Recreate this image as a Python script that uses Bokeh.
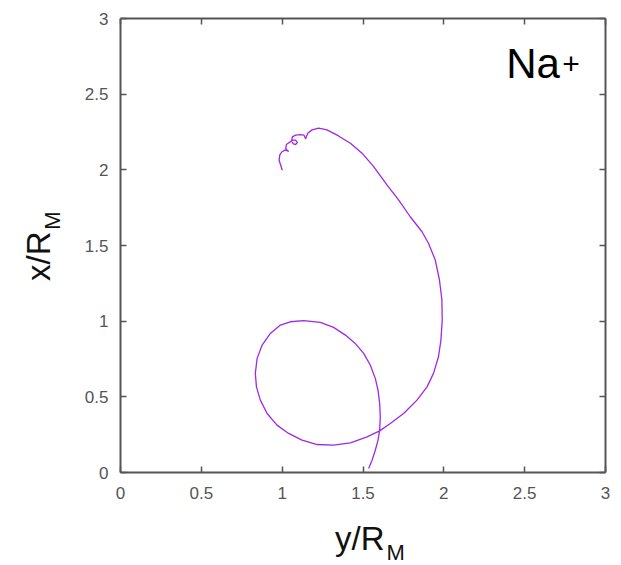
import math

from bokeh.embed import file_html
from bokeh.layouts import column, row
from bokeh.models import ColumnDataSource, FixedTicker, Label, LinearAxis, Range1d
from bokeh.plotting import figure
from bokeh.resources import INLINE

# Na+ ion trajectory in the equatorial plane (in Mercury radii), time-ordered
traj_y = [1.535, 1.556, 1.576, 1.593, 1.603, 1.607, 1.603, 1.593, 1.576, 1.545,
          1.504, 1.452, 1.391, 1.318, 1.236, 1.133, 1.051, 0.989, 0.927, 0.876,
          0.845, 0.834, 0.841, 0.865, 0.907, 0.968, 1.040, 1.123, 1.216, 1.318,
          1.422, 1.525, 1.603, 1.669, 1.751, 1.834, 1.896, 1.936, 1.967, 1.982,
          1.990, 1.988, 1.973, 1.947, 1.905, 1.865, 1.792, 1.720, 1.648, 1.566,
          1.494, 1.422, 1.349, 1.277, 1.226, 1.185, 1.158, 1.145, 1.135, 1.114,
          1.083, 1.063, 1.059, 1.067, 1.083, 1.094, 1.083, 1.067, 1.043, 1.026,
          1.022, 1.038, 1.018, 0.997, 0.985, 0.981, 0.991, 1.001]
traj_x = [0.026, 0.081, 0.147, 0.214, 0.280, 0.368, 0.456, 0.544, 0.622, 0.710,
          0.787, 0.853, 0.908, 0.959, 0.992, 1.003, 0.996, 0.974, 0.919, 0.842,
          0.754, 0.655, 0.566, 0.478, 0.390, 0.313, 0.258, 0.214, 0.185, 0.181,
          0.196, 0.235, 0.275, 0.324, 0.390, 0.478, 0.566, 0.655, 0.765, 0.875,
          1.007, 1.140, 1.272, 1.404, 1.515, 1.591, 1.690, 1.801, 1.900, 2.021,
          2.110, 2.176, 2.224, 2.264, 2.275, 2.264, 2.242, 2.206, 2.229, 2.233,
          2.229, 2.218, 2.196, 2.173, 2.167, 2.180, 2.196, 2.196, 2.180, 2.167,
          2.140, 2.123, 2.130, 2.118, 2.097, 2.063, 2.030, 1.997]

ticks = [0, 0.5, 1, 1.5, 2, 2.5, 3]
tick_text = {0: "0", 0.5: "0.5", 1: "1", 1.5: "1.5", 2: "2", 2.5: "2.5", 3: "3"}

AXIS_COLOR = "#555555"
LABEL_COLOR = "#555555"
TITLE_COLOR = "#111111"
LINE_COLOR = "#a028e6"
FONT = "Liberation Sans"


def blank_figure(w, h):
    f = figure(width=w, height=h, output_backend="svg", toolbar_location=None,
               x_range=Range1d(0, w), y_range=Range1d(0, h), min_border=0,
               x_axis_location=None, y_axis_location=None)
    f.grid.visible = False
    f.outline_line_color = None
    return f


# main plot panel
p = figure(width=551, height=520, output_backend="svg", toolbar_location=None,
           x_range=Range1d(0, 3), y_range=Range1d(0, 3),
           min_border_left=50, min_border_right=16,
           min_border_top=18, min_border_bottom=48,
           x_axis_location=None, y_axis_location=None)
p.grid.visible = False
p.outline_line_color = None

src = ColumnDataSource(dict(y=traj_y, x=traj_x))
p.line("y", "x", source=src, line_color=LINE_COLOR, line_width=1.3,
       line_join="round")


def make_axis(show_labels, standoff):
    ax = LinearAxis(ticker=FixedTicker(ticks=ticks),
                    major_label_overrides=tick_text)
    ax.axis_line_color = AXIS_COLOR
    ax.axis_line_width = 2
    ax.major_tick_line_color = AXIS_COLOR
    ax.major_tick_line_width = 1.5
    ax.major_tick_in = 6
    ax.major_tick_out = 0
    ax.minor_tick_line_color = None
    ax.major_label_text_font = FONT
    ax.major_label_text_color = LABEL_COLOR
    ax.major_label_standoff = standoff
    if show_labels:
        ax.major_label_text_font_size = "17px"
    else:
        ax.major_label_text_font_size = "0px"
        ax.major_label_text_alpha = 0
    return ax


p.add_layout(make_axis(True, 14), "below")
p.add_layout(make_axis(True, 12), "left")
p.add_layout(make_axis(False, 0), "above")
p.add_layout(make_axis(False, 0), "right")

# species tag
p.add_layout(Label(x=2.386, y=2.550, text="Na", text_align="left",
                   text_font=FONT, text_font_size="42px", text_color="black"))
p.add_layout(Label(x=2.732, y=2.630, text="+", text_align="left",
                   text_font=FONT, text_font_size="30px", text_color="black"))

# vertical axis title: x/R_M
left = blank_figure(70, 520)
left.add_layout(Label(x=56, y=276, text="x/R", text_align="right",
                      angle=math.pi / 2, text_font=FONT, text_font_size="33px",
                      text_color=TITLE_COLOR))
left.add_layout(Label(x=64, y=278, text="M", text_align="left",
                      angle=math.pi / 2, text_font=FONT, text_font_size="22px",
                      text_color=TITLE_COLOR))

# horizontal axis title: y/R_M
bottom = blank_figure(621, 45)
bottom.add_layout(Label(x=384, y=9, text="y/R", text_align="right",
                        text_font=FONT, text_font_size="33px",
                        text_color=TITLE_COLOR))
bottom.add_layout(Label(x=386, y=1, text="M", text_align="left",
                        text_font=FONT, text_font_size="22px",
                        text_color=TITLE_COLOR))

layout = column(row(left, p), bottom)
open("out.html", "w").write(file_html(layout, INLINE))
